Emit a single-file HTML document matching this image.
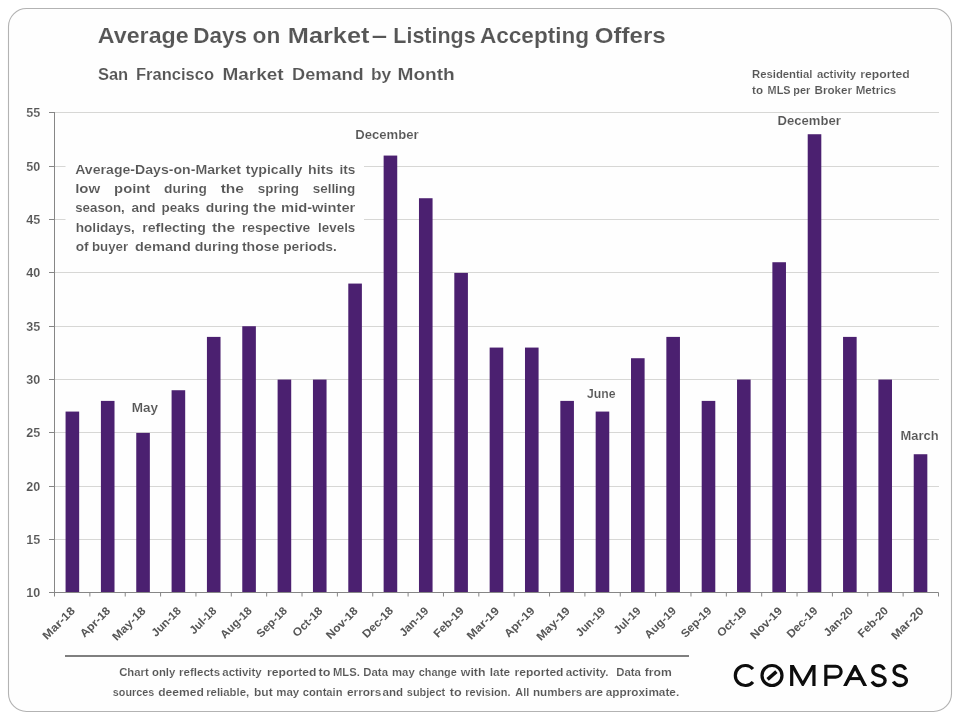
<!DOCTYPE html>
<html><head><meta charset="utf-8"><title>Average Days on Market</title>
<style>
html,body{margin:0;padding:0;background:#fff;}
body{width:960px;height:720px;overflow:hidden;position:relative;font-family:"Liberation Sans",sans-serif;}
svg{position:absolute;left:0;top:0;display:block;will-change:transform;}
text{font-family:"Liberation Sans",sans-serif;font-weight:bold;fill:#565656;stroke:#fefefe;stroke-width:0.12px;}
text.xl{stroke:none;}
</style></head><body>
<svg width="960" height="720" viewBox="0 0 960 720">
<rect x="0" y="0" width="960" height="720" fill="#ffffff"/>
<rect x="8.5" y="8.5" width="943" height="703" rx="18" ry="18" fill="#fefefe" stroke="#b3b3b3" stroke-width="1.1"/>

<g stroke="#d7d7d5" stroke-width="1" shape-rendering="crispEdges">
<line x1="54.5" y1="539.50" x2="938.5" y2="539.50"/>
<line x1="54.5" y1="486.50" x2="938.5" y2="486.50"/>
<line x1="54.5" y1="432.50" x2="938.5" y2="432.50"/>
<line x1="54.5" y1="379.50" x2="938.5" y2="379.50"/>
<line x1="54.5" y1="326.50" x2="938.5" y2="326.50"/>
<line x1="54.5" y1="272.50" x2="938.5" y2="272.50"/>
<line x1="54.5" y1="219.50" x2="938.5" y2="219.50"/>
<line x1="54.5" y1="166.50" x2="938.5" y2="166.50"/>
<line x1="54.5" y1="112.50" x2="938.5" y2="112.50"/>
</g>
<rect x="65.5" y="155" width="298.5" height="105" fill="#fefefe"/>
<rect x="891.5" y="425" width="52" height="20" fill="#fefefe"/>
<g fill="#4b2070">
<rect x="65.57" y="411.57" width="13.60" height="180.93"/>
<rect x="100.91" y="400.90" width="13.60" height="191.60"/>
<rect x="136.25" y="432.90" width="13.60" height="159.60"/>
<rect x="171.59" y="390.23" width="13.60" height="202.27"/>
<rect x="206.93" y="336.90" width="13.60" height="255.60"/>
<rect x="242.27" y="326.23" width="13.60" height="266.27"/>
<rect x="277.61" y="379.57" width="13.60" height="212.93"/>
<rect x="312.95" y="379.57" width="13.60" height="212.93"/>
<rect x="348.29" y="283.57" width="13.60" height="308.93"/>
<rect x="383.63" y="155.57" width="13.60" height="436.93"/>
<rect x="418.97" y="198.23" width="13.60" height="394.27"/>
<rect x="454.31" y="272.90" width="13.60" height="319.60"/>
<rect x="489.65" y="347.57" width="13.60" height="244.93"/>
<rect x="524.99" y="347.57" width="13.60" height="244.93"/>
<rect x="560.33" y="400.90" width="13.60" height="191.60"/>
<rect x="595.67" y="411.57" width="13.60" height="180.93"/>
<rect x="631.01" y="358.23" width="13.60" height="234.27"/>
<rect x="666.35" y="336.90" width="13.60" height="255.60"/>
<rect x="701.69" y="400.90" width="13.60" height="191.60"/>
<rect x="737.03" y="379.57" width="13.60" height="212.93"/>
<rect x="772.37" y="262.23" width="13.60" height="330.27"/>
<rect x="807.71" y="134.23" width="13.60" height="458.27"/>
<rect x="843.05" y="336.90" width="13.60" height="255.60"/>
<rect x="878.39" y="379.57" width="13.60" height="212.93"/>
<rect x="913.73" y="454.23" width="13.60" height="138.27"/>
</g>
<g stroke="#868686" stroke-width="1" fill="none">
<line x1="54.5" y1="112.0" x2="54.5" y2="596.5"/>
<line x1="49.0" y1="592.5" x2="938.5" y2="592.5"/>
<line x1="49.0" y1="539.50" x2="54.5" y2="539.50"/>
<line x1="49.0" y1="486.50" x2="54.5" y2="486.50"/>
<line x1="49.0" y1="432.50" x2="54.5" y2="432.50"/>
<line x1="49.0" y1="379.50" x2="54.5" y2="379.50"/>
<line x1="49.0" y1="326.50" x2="54.5" y2="326.50"/>
<line x1="49.0" y1="272.50" x2="54.5" y2="272.50"/>
<line x1="49.0" y1="219.50" x2="54.5" y2="219.50"/>
<line x1="49.0" y1="166.50" x2="54.5" y2="166.50"/>
<line x1="49.0" y1="112.50" x2="54.5" y2="112.50"/>
<line x1="89.86" y1="592.5" x2="89.86" y2="596.5"/>
<line x1="125.22" y1="592.5" x2="125.22" y2="596.5"/>
<line x1="160.58" y1="592.5" x2="160.58" y2="596.5"/>
<line x1="195.94" y1="592.5" x2="195.94" y2="596.5"/>
<line x1="231.30" y1="592.5" x2="231.30" y2="596.5"/>
<line x1="266.66" y1="592.5" x2="266.66" y2="596.5"/>
<line x1="302.02" y1="592.5" x2="302.02" y2="596.5"/>
<line x1="337.38" y1="592.5" x2="337.38" y2="596.5"/>
<line x1="372.74" y1="592.5" x2="372.74" y2="596.5"/>
<line x1="408.10" y1="592.5" x2="408.10" y2="596.5"/>
<line x1="443.46" y1="592.5" x2="443.46" y2="596.5"/>
<line x1="478.82" y1="592.5" x2="478.82" y2="596.5"/>
<line x1="514.18" y1="592.5" x2="514.18" y2="596.5"/>
<line x1="549.54" y1="592.5" x2="549.54" y2="596.5"/>
<line x1="584.90" y1="592.5" x2="584.90" y2="596.5"/>
<line x1="620.26" y1="592.5" x2="620.26" y2="596.5"/>
<line x1="655.62" y1="592.5" x2="655.62" y2="596.5"/>
<line x1="690.98" y1="592.5" x2="690.98" y2="596.5"/>
<line x1="726.34" y1="592.5" x2="726.34" y2="596.5"/>
<line x1="761.70" y1="592.5" x2="761.70" y2="596.5"/>
<line x1="797.06" y1="592.5" x2="797.06" y2="596.5"/>
<line x1="832.42" y1="592.5" x2="832.42" y2="596.5"/>
<line x1="867.78" y1="592.5" x2="867.78" y2="596.5"/>
<line x1="903.14" y1="592.5" x2="903.14" y2="596.5"/>
<line x1="938.50" y1="592.5" x2="938.50" y2="596.5"/>
</g>
<text x="40.3" y="597.20" font-size="12.6" text-anchor="end" textLength="14" lengthAdjust="spacingAndGlyphs">10</text>
<text x="40.3" y="544.20" font-size="12.6" text-anchor="end" textLength="14" lengthAdjust="spacingAndGlyphs">15</text>
<text x="40.3" y="491.20" font-size="12.6" text-anchor="end" textLength="14" lengthAdjust="spacingAndGlyphs">20</text>
<text x="40.3" y="437.20" font-size="12.6" text-anchor="end" textLength="14" lengthAdjust="spacingAndGlyphs">25</text>
<text x="40.3" y="384.20" font-size="12.6" text-anchor="end" textLength="14" lengthAdjust="spacingAndGlyphs">30</text>
<text x="40.3" y="331.20" font-size="12.6" text-anchor="end" textLength="14" lengthAdjust="spacingAndGlyphs">35</text>
<text x="40.3" y="277.20" font-size="12.6" text-anchor="end" textLength="14" lengthAdjust="spacingAndGlyphs">40</text>
<text x="40.3" y="224.20" font-size="12.6" text-anchor="end" textLength="14" lengthAdjust="spacingAndGlyphs">45</text>
<text x="40.3" y="171.20" font-size="12.6" text-anchor="end" textLength="14" lengthAdjust="spacingAndGlyphs">50</text>
<text x="40.3" y="117.20" font-size="12.6" text-anchor="end" textLength="14" lengthAdjust="spacingAndGlyphs">55</text>
<text class="xl" transform="translate(75.68,611.50) rotate(-45)" font-size="11.3" text-anchor="end" textLength="40.5" lengthAdjust="spacingAndGlyphs">Mar-18</text>
<text class="xl" transform="translate(111.04,611.50) rotate(-45)" font-size="11.3" text-anchor="end" textLength="37.6" lengthAdjust="spacingAndGlyphs">Apr-18</text>
<text class="xl" transform="translate(146.40,611.50) rotate(-45)" font-size="11.3" text-anchor="end" textLength="42.0" lengthAdjust="spacingAndGlyphs">May-18</text>
<text class="xl" transform="translate(181.76,611.50) rotate(-45)" font-size="11.3" text-anchor="end" textLength="36.5" lengthAdjust="spacingAndGlyphs">Jun-18</text>
<text class="xl" transform="translate(217.12,611.50) rotate(-45)" font-size="11.3" text-anchor="end" textLength="32.8" lengthAdjust="spacingAndGlyphs">Jul-18</text>
<text class="xl" transform="translate(252.48,611.50) rotate(-45)" font-size="11.3" text-anchor="end" textLength="39.2" lengthAdjust="spacingAndGlyphs">Aug-18</text>
<text class="xl" transform="translate(287.84,611.50) rotate(-45)" font-size="11.3" text-anchor="end" textLength="37.8" lengthAdjust="spacingAndGlyphs">Sep-18</text>
<text class="xl" transform="translate(323.20,611.50) rotate(-45)" font-size="11.3" text-anchor="end" textLength="36.9" lengthAdjust="spacingAndGlyphs">Oct-18</text>
<text class="xl" transform="translate(358.56,611.50) rotate(-45)" font-size="11.3" text-anchor="end" textLength="39.8" lengthAdjust="spacingAndGlyphs">Nov-18</text>
<text class="xl" transform="translate(393.92,611.50) rotate(-45)" font-size="11.3" text-anchor="end" textLength="38.3" lengthAdjust="spacingAndGlyphs">Dec-18</text>
<text class="xl" transform="translate(429.28,611.50) rotate(-45)" font-size="11.3" text-anchor="end" textLength="35.9" lengthAdjust="spacingAndGlyphs">Jan-19</text>
<text class="xl" transform="translate(464.64,611.50) rotate(-45)" font-size="11.3" text-anchor="end" textLength="37.7" lengthAdjust="spacingAndGlyphs">Feb-19</text>
<text class="xl" transform="translate(500.00,611.50) rotate(-45)" font-size="11.3" text-anchor="end" textLength="40.5" lengthAdjust="spacingAndGlyphs">Mar-19</text>
<text class="xl" transform="translate(535.36,611.50) rotate(-45)" font-size="11.3" text-anchor="end" textLength="37.6" lengthAdjust="spacingAndGlyphs">Apr-19</text>
<text class="xl" transform="translate(570.72,611.50) rotate(-45)" font-size="11.3" text-anchor="end" textLength="42.0" lengthAdjust="spacingAndGlyphs">May-19</text>
<text class="xl" transform="translate(606.08,611.50) rotate(-45)" font-size="11.3" text-anchor="end" textLength="36.5" lengthAdjust="spacingAndGlyphs">Jun-19</text>
<text class="xl" transform="translate(641.44,611.50) rotate(-45)" font-size="11.3" text-anchor="end" textLength="32.8" lengthAdjust="spacingAndGlyphs">Jul-19</text>
<text class="xl" transform="translate(676.80,611.50) rotate(-45)" font-size="11.3" text-anchor="end" textLength="39.2" lengthAdjust="spacingAndGlyphs">Aug-19</text>
<text class="xl" transform="translate(712.16,611.50) rotate(-45)" font-size="11.3" text-anchor="end" textLength="37.8" lengthAdjust="spacingAndGlyphs">Sep-19</text>
<text class="xl" transform="translate(747.52,611.50) rotate(-45)" font-size="11.3" text-anchor="end" textLength="36.9" lengthAdjust="spacingAndGlyphs">Oct-19</text>
<text class="xl" transform="translate(782.88,611.50) rotate(-45)" font-size="11.3" text-anchor="end" textLength="39.8" lengthAdjust="spacingAndGlyphs">Nov-19</text>
<text class="xl" transform="translate(818.24,611.50) rotate(-45)" font-size="11.3" text-anchor="end" textLength="38.3" lengthAdjust="spacingAndGlyphs">Dec-19</text>
<text class="xl" transform="translate(853.60,611.50) rotate(-45)" font-size="11.3" text-anchor="end" textLength="35.9" lengthAdjust="spacingAndGlyphs">Jan-20</text>
<text class="xl" transform="translate(888.96,611.50) rotate(-45)" font-size="11.3" text-anchor="end" textLength="37.7" lengthAdjust="spacingAndGlyphs">Feb-20</text>
<text class="xl" transform="translate(924.32,611.50) rotate(-45)" font-size="11.3" text-anchor="end" textLength="40.5" lengthAdjust="spacingAndGlyphs">Mar-20</text>
<text x="97.8" y="43.4" font-size="21.6" textLength="90.9" lengthAdjust="spacingAndGlyphs">Average</text>
<text x="193.2" y="43.4" font-size="21.6" textLength="53.9" lengthAdjust="spacingAndGlyphs">Days</text>
<text x="252.6" y="43.4" font-size="21.6" textLength="27.8" lengthAdjust="spacingAndGlyphs">on</text>
<text x="287.8" y="43.4" font-size="21.6" textLength="81.6" lengthAdjust="spacingAndGlyphs">Market</text>
<text x="371.8" y="43.4" font-size="21.6" textLength="15.3" lengthAdjust="spacingAndGlyphs">–</text>
<text x="393.3" y="43.4" font-size="21.6" textLength="82.3" lengthAdjust="spacingAndGlyphs">Listings</text>
<text x="479.9" y="43.4" font-size="21.6" textLength="109.3" lengthAdjust="spacingAndGlyphs">Accepting</text>
<text x="594.7" y="43.4" font-size="21.6" textLength="71.0" lengthAdjust="spacingAndGlyphs">Offers</text>
<text x="97.9" y="79.5" font-size="16.6" textLength="30.3" lengthAdjust="spacingAndGlyphs">San</text>
<text x="136.0" y="79.5" font-size="16.6" textLength="78.0" lengthAdjust="spacingAndGlyphs">Francisco</text>
<text x="222.4" y="79.5" font-size="16.6" textLength="61.2" lengthAdjust="spacingAndGlyphs">Market</text>
<text x="292.1" y="79.5" font-size="16.6" textLength="71.6" lengthAdjust="spacingAndGlyphs">Demand</text>
<text x="370.9" y="79.5" font-size="16.6" textLength="20.3" lengthAdjust="spacingAndGlyphs">by</text>
<text x="397.5" y="79.5" font-size="16.6" textLength="57.3" lengthAdjust="spacingAndGlyphs">Month</text>
<text x="752.0" y="77.7" font-size="10.8" textLength="60.4" lengthAdjust="spacingAndGlyphs">Residential</text>
<text x="817.0" y="77.7" font-size="10.8" textLength="39.1" lengthAdjust="spacingAndGlyphs">activity</text>
<text x="860.3" y="77.7" font-size="10.8" textLength="49.4" lengthAdjust="spacingAndGlyphs">reported</text>
<text x="752.0" y="93.7" font-size="10.8" textLength="11.0" lengthAdjust="spacingAndGlyphs">to</text>
<text x="767.6" y="93.7" font-size="10.8" textLength="22.9" lengthAdjust="spacingAndGlyphs">MLS</text>
<text x="793.3" y="93.7" font-size="10.8" textLength="17.0" lengthAdjust="spacingAndGlyphs">per</text>
<text x="814.5" y="93.7" font-size="10.8" textLength="37.5" lengthAdjust="spacingAndGlyphs">Broker</text>
<text x="855.7" y="93.7" font-size="10.8" textLength="40.6" lengthAdjust="spacingAndGlyphs">Metrics</text>
<text x="355.3" y="138.7" font-size="12" textLength="63.3" lengthAdjust="spacingAndGlyphs">December</text>
<text x="777.5" y="124.6" font-size="12" textLength="63.3" lengthAdjust="spacingAndGlyphs">December</text>
<text x="131.7" y="411.7" font-size="12" textLength="26.3" lengthAdjust="spacingAndGlyphs">May</text>
<text x="587" y="397.5" font-size="12" textLength="28.5" lengthAdjust="spacingAndGlyphs">June</text>
<text x="900.6" y="439.8" font-size="12" textLength="38.1" lengthAdjust="spacingAndGlyphs">March</text>
<text x="75.2" y="173.5" font-size="13" textLength="165.7" lengthAdjust="spacingAndGlyphs">Average-Days-on-Market</text>
<text x="245.7" y="173.5" font-size="13" textLength="56.6" lengthAdjust="spacingAndGlyphs">typically</text>
<text x="308.1" y="173.5" font-size="13" textLength="25.3" lengthAdjust="spacingAndGlyphs">hits</text>
<text x="339.4" y="173.5" font-size="13" textLength="15.9" lengthAdjust="spacingAndGlyphs">its</text>
<text x="75.2" y="192.7" font-size="13" textLength="25.1" lengthAdjust="spacingAndGlyphs">low</text>
<text x="114.1" y="192.7" font-size="13" textLength="36.2" lengthAdjust="spacingAndGlyphs">point</text>
<text x="164.1" y="192.7" font-size="13" textLength="42.8" lengthAdjust="spacingAndGlyphs">during</text>
<text x="220.7" y="192.7" font-size="13" textLength="23.2" lengthAdjust="spacingAndGlyphs">the</text>
<text x="257.7" y="192.7" font-size="13" textLength="41.2" lengthAdjust="spacingAndGlyphs">spring</text>
<text x="312.7" y="192.7" font-size="13" textLength="42.6" lengthAdjust="spacingAndGlyphs">selling</text>
<text x="75.2" y="211.8" font-size="13" textLength="49.6" lengthAdjust="spacingAndGlyphs">season,</text>
<text x="131.4" y="211.8" font-size="13" textLength="24.2" lengthAdjust="spacingAndGlyphs">and</text>
<text x="161.6" y="211.8" font-size="13" textLength="38.2" lengthAdjust="spacingAndGlyphs">peaks</text>
<text x="205.7" y="211.8" font-size="13" textLength="43.2" lengthAdjust="spacingAndGlyphs">during</text>
<text x="253.1" y="211.8" font-size="13" textLength="23.0" lengthAdjust="spacingAndGlyphs">the</text>
<text x="281.1" y="211.8" font-size="13" textLength="74.2" lengthAdjust="spacingAndGlyphs">mid-winter</text>
<text x="75.7" y="231.5" font-size="13" textLength="59.1" lengthAdjust="spacingAndGlyphs">holidays,</text>
<text x="142.2" y="231.5" font-size="13" textLength="63.7" lengthAdjust="spacingAndGlyphs">reflecting</text>
<text x="211.9" y="231.5" font-size="13" textLength="23.2" lengthAdjust="spacingAndGlyphs">the</text>
<text x="241.9" y="231.5" font-size="13" textLength="68.4" lengthAdjust="spacingAndGlyphs">respective</text>
<text x="318.1" y="231.5" font-size="13" textLength="37.2" lengthAdjust="spacingAndGlyphs">levels</text>
<text x="75.7" y="250.5" font-size="13" textLength="12.9" lengthAdjust="spacingAndGlyphs">of</text>
<text x="91.9" y="250.5" font-size="13" textLength="36.2" lengthAdjust="spacingAndGlyphs">buyer</text>
<text x="134.9" y="250.5" font-size="13" textLength="56.0" lengthAdjust="spacingAndGlyphs">demand</text>
<text x="194.7" y="250.5" font-size="13" textLength="44.2" lengthAdjust="spacingAndGlyphs">during</text>
<text x="241.9" y="250.5" font-size="13" textLength="37.5" lengthAdjust="spacingAndGlyphs">those</text>
<text x="283.2" y="250.5" font-size="13" textLength="53.7" lengthAdjust="spacingAndGlyphs">periods.</text>
<line x1="65" y1="656" x2="689" y2="656" stroke="#7f7f7f" stroke-width="2"/>
<text x="119.2" y="675.9" font-size="10.8" textLength="29.5" lengthAdjust="spacingAndGlyphs">Chart</text>
<text x="152.0" y="675.9" font-size="10.8" textLength="23.3" lengthAdjust="spacingAndGlyphs">only</text>
<text x="179.1" y="675.9" font-size="10.8" textLength="41.0" lengthAdjust="spacingAndGlyphs">reflects</text>
<text x="222.3" y="675.9" font-size="10.8" textLength="39.4" lengthAdjust="spacingAndGlyphs">activity</text>
<text x="267.1" y="675.9" font-size="10.8" textLength="49.4" lengthAdjust="spacingAndGlyphs">reported</text>
<text x="318.5" y="675.9" font-size="10.8" textLength="12.0" lengthAdjust="spacingAndGlyphs">to</text>
<text x="333.0" y="675.9" font-size="10.8" textLength="26.8" lengthAdjust="spacingAndGlyphs">MLS.</text>
<text x="363.3" y="675.9" font-size="10.8" textLength="24.7" lengthAdjust="spacingAndGlyphs">Data</text>
<text x="392.0" y="675.9" font-size="10.8" textLength="22.7" lengthAdjust="spacingAndGlyphs">may</text>
<text x="418.7" y="675.9" font-size="10.8" textLength="38.1" lengthAdjust="spacingAndGlyphs">change</text>
<text x="460.8" y="675.9" font-size="10.8" textLength="24.7" lengthAdjust="spacingAndGlyphs">with</text>
<text x="489.8" y="675.9" font-size="10.8" textLength="20.4" lengthAdjust="spacingAndGlyphs">late</text>
<text x="514.5" y="675.9" font-size="10.8" textLength="49.0" lengthAdjust="spacingAndGlyphs">reported</text>
<text x="565.8" y="675.9" font-size="10.8" textLength="42.7" lengthAdjust="spacingAndGlyphs">activity.</text>
<text x="616.2" y="675.9" font-size="10.8" textLength="24.6" lengthAdjust="spacingAndGlyphs">Data</text>
<text x="644.8" y="675.9" font-size="10.8" textLength="27.0" lengthAdjust="spacingAndGlyphs">from</text>
<text x="112.8" y="695.6" font-size="10.8" textLength="41.4" lengthAdjust="spacingAndGlyphs">sources</text>
<text x="158.2" y="695.6" font-size="10.8" textLength="45.6" lengthAdjust="spacingAndGlyphs">deemed</text>
<text x="206.2" y="695.6" font-size="10.8" textLength="43.0" lengthAdjust="spacingAndGlyphs">reliable,</text>
<text x="254.0" y="695.6" font-size="10.8" textLength="18.7" lengthAdjust="spacingAndGlyphs">but</text>
<text x="276.2" y="695.6" font-size="10.8" textLength="23.0" lengthAdjust="spacingAndGlyphs">may</text>
<text x="302.8" y="695.6" font-size="10.8" textLength="39.7" lengthAdjust="spacingAndGlyphs">contain</text>
<text x="347.0" y="695.6" font-size="10.8" textLength="34.3" lengthAdjust="spacingAndGlyphs">errors</text>
<text x="382.5" y="695.6" font-size="10.8" textLength="20.5" lengthAdjust="spacingAndGlyphs">and</text>
<text x="406.8" y="695.6" font-size="10.8" textLength="38.4" lengthAdjust="spacingAndGlyphs">subject</text>
<text x="449.8" y="695.6" font-size="10.8" textLength="11.9" lengthAdjust="spacingAndGlyphs">to</text>
<text x="465.3" y="695.6" font-size="10.8" textLength="45.2" lengthAdjust="spacingAndGlyphs">revision.</text>
<text x="515.3" y="695.6" font-size="10.8" textLength="13.9" lengthAdjust="spacingAndGlyphs">All</text>
<text x="533.0" y="695.6" font-size="10.8" textLength="49.2" lengthAdjust="spacingAndGlyphs">numbers</text>
<text x="584.8" y="695.6" font-size="10.8" textLength="18.2" lengthAdjust="spacingAndGlyphs">are</text>
<text x="605.8" y="695.6" font-size="10.8" textLength="73.4" lengthAdjust="spacingAndGlyphs">approximate.</text>
<g fill="none" stroke="#0d0d0d" stroke-width="3.2" stroke-linecap="butt" stroke-linejoin="miter">
<path d="M752.96 669.07 A10 10 0 1 0 752.96 681.93"/>
<circle cx="772" cy="675.5" r="10.0"/>
<path d="M767.6 679.4 L776.4 671.6" stroke-width="3.5"/>
<clipPath id="cm"><rect x="788" y="664.9" width="30" height="21.1"/></clipPath>
<g clip-path="url(#cm)">
<path d="M791.7 687 V664"/><path d="M813.95 687 V664"/>
<path d="M790.3 662 L802.8 684.2 L815.3 662" stroke-miterlimit="10"/>
</g>
<path d="M825.85 686 V664.9"/>
<path d="M825.85 666.25 H835.7 A5.4 5.4 0 0 1 835.7 677.05 H825.85"/>
<clipPath id="ca"><rect x="840" y="664.9" width="30" height="21.1"/></clipPath>
<g clip-path="url(#ca)">
<path d="M844.5 687 L855.1 666.6 L865.7 687" stroke-miterlimit="10" stroke-width="3.4"/>
<path d="M849 678.6 H861.2" stroke-width="3.0"/>
</g>
<path stroke-width="3.35" transform="translate(-0.4,0)" d="M884.6 669.6 C883.6 667.2 881.6 665.55 878.9 665.55 C875.6 665.55 873.2 667.7 873.2 670.6 C873.2 673.6 875.4 674.8 879.2 675.6 C883.2 676.5 885.5 677.6 885.5 680.4 C885.5 683.4 882.9 685.45 879.3 685.45 C876.2 685.45 873.8 684.0 872.5 681.4"/>
<path stroke-width="3.35" transform="translate(20.9,0)" d="M884.6 669.6 C883.6 667.2 881.6 665.55 878.9 665.55 C875.6 665.55 873.2 667.7 873.2 670.6 C873.2 673.6 875.4 674.8 879.2 675.6 C883.2 676.5 885.5 677.6 885.5 680.4 C885.5 683.4 882.9 685.45 879.3 685.45 C876.2 685.45 873.8 684.0 872.5 681.4"/>
</g>
<!--LOGO-->
</svg></body></html>
